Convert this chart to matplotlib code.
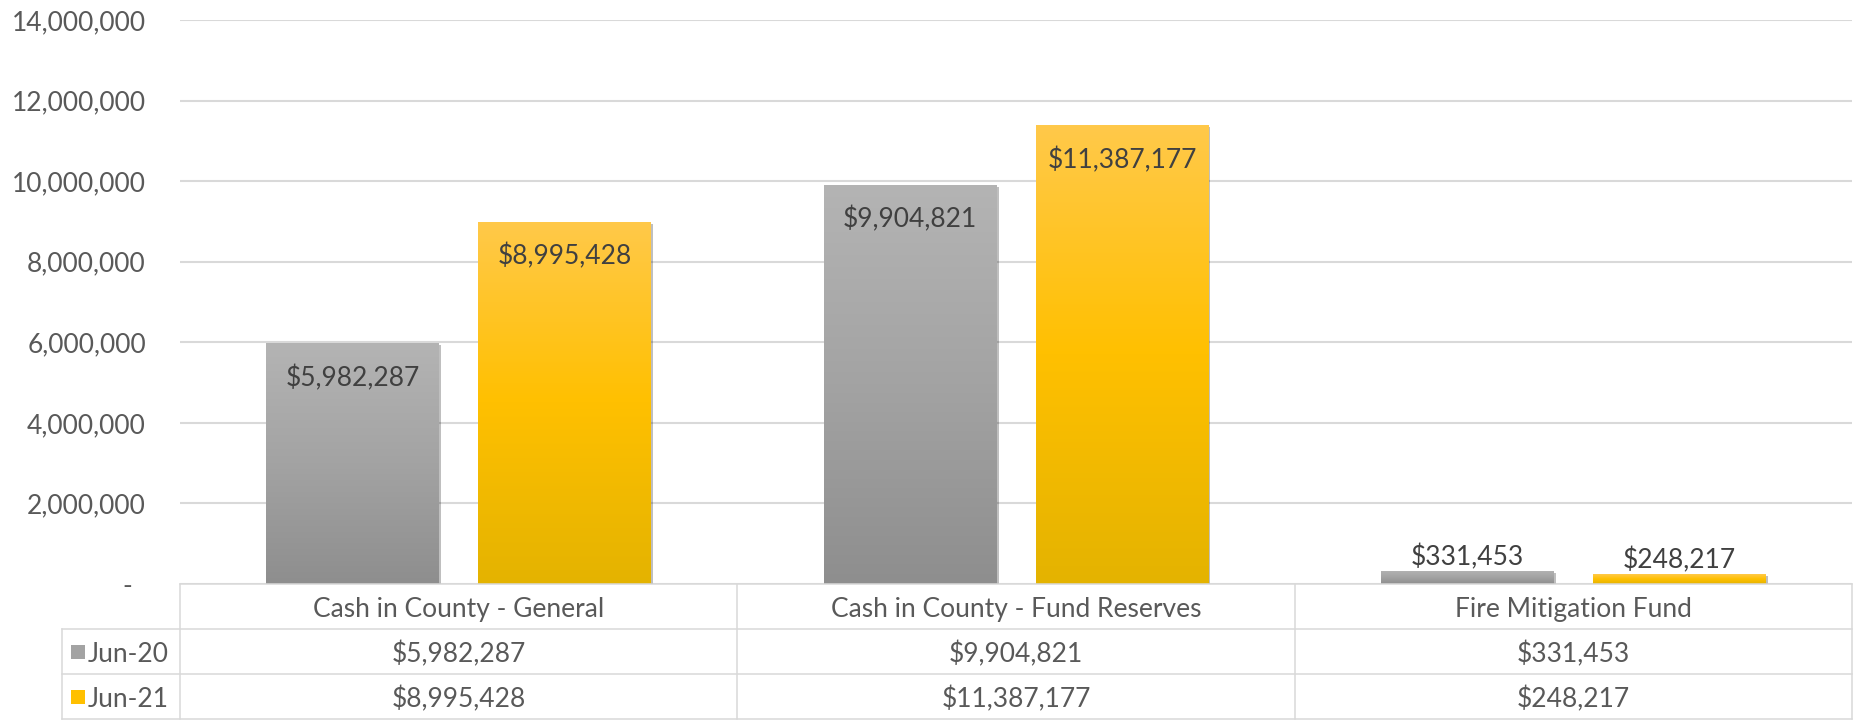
import numpy as np
import matplotlib.pyplot as plt
import matplotlib.transforms as mtransforms
import matplotlib.patheffects as pe
from matplotlib.patches import Rectangle
from matplotlib.colors import LinearSegmentedColormap

plt.rcParams['font.family'] = ['Lato', 'DejaVu Sans']

# data
categories = ['Cash in County - General', 'Cash in County - Fund Reserves', 'Fire Mitigation Fund']
series_names = ['Jun-20', 'Jun-21']
jun20 = [5982287, 9904821, 331453]
jun21 = [8995428, 11387177, 248217]
yticks = [0, 2000000, 4000000, 6000000, 8000000, 10000000, 12000000, 14000000]

gray_stops = ['#8e8e8e', '#a3a3a3', '#b4b4b4']   # bottom -> top
gold_stops = ['#e4b300', '#ffc000', '#ffc94a']
text_col = '#595959'
line_col = '#d9d9d9'
fs = 19

W, H = 1855, 726
fig = plt.figure(figsize=(W / 100, H / 100), dpi=100)
ax = fig.add_axes([180 / W, 1 - 584 / H, (1852 - 180) / W, (584 - 20) / H])

x = np.arange(len(categories))
bw = 0.31
off = 0.19
shadow = [pe.SimplePatchShadow(offset=(1.5, -1.5), alpha=0.25, shadow_rgbFace='k'), pe.Normal()]


def shade(bars, stops):
    cmap = LinearSegmentedColormap.from_list('g', stops)
    grad = np.linspace(0, 1, 256).reshape(-1, 1)
    for b in bars:
        x0, y0 = b.get_x(), b.get_y()
        im = ax.imshow(grad, cmap=cmap, aspect='auto', origin='lower', zorder=2.5,
                       extent=(x0, x0 + b.get_width(), y0, y0 + b.get_height()))
        im.set_clip_path(b)


def label(bars, vals):
    for b, v in zip(bars, vals):
        cx = b.get_x() + b.get_width() / 2
        dy = -25 if v > 1e6 else 10
        ax.annotate(f'${v:,.0f}', (cx, v), xytext=(0, dy), textcoords='offset points',
                    ha='center', va='center', fontsize=fs, color='#404040', zorder=4)


b1 = ax.bar(x - off, jun20, bw, color=gray_stops[1], zorder=2, path_effects=shadow)
b2 = ax.bar(x + off, jun21, bw, color=gold_stops[1], zorder=2, path_effects=shadow)
shade(b1, gray_stops)
shade(b2, gold_stops)
label(b1, jun20)
label(b2, jun21)

ax.set_xlim(-0.5, 2.5)
ax.set_ylim(0, 14000000)
ax.set_yticks(yticks)
ax.set_yticklabels(['-  ' if v == 0 else f'{v:,.0f}' for v in yticks])
ax.set_xticks([])
ax.tick_params(axis='y', length=0, pad=24.5, labelsize=fs, labelcolor=text_col)
ax.grid(axis='y', color=line_col, linewidth=1.5)
ax.set_axisbelow(True)
for s in ax.spines.values():
    s.set_visible(False)

# data table under the chart
tax = fig.add_axes([62 / W, 1 - 719 / H, (1852 - 62) / W, (719 - 584) / H])
tax.axis('off')
trans = mtransforms.blended_transform_factory(ax.transData, tax.transAxes)
lw = 1.1
nudge = 3 / 135  # text sits a bit low in its cell

tax.plot([-0.5, 2.5], [1, 1], transform=trans, color=line_col, lw=lw, clip_on=False)
for yy in [2 / 3, 1 / 3, 0]:
    tax.plot([0, 1], [yy, yy], transform=tax.transAxes, color=line_col, lw=lw, clip_on=False)
for xx in [-0.5, 0.5, 1.5, 2.5]:
    tax.plot([xx, xx], [0, 1], transform=trans, color=line_col, lw=lw, clip_on=False)
tax.plot([0, 0], [0, 2 / 3], transform=tax.transAxes, color=line_col, lw=lw, clip_on=False)

for i, c in enumerate(categories):
    tax.text(i, 5 / 6 - nudge, c, transform=trans, ha='center', va='center', fontsize=fs, color=text_col)

rows = [(series_names[0], jun20, gray_stops[1], 0.5), (series_names[1], jun21, gold_stops[1], 1 / 6)]
for name, vals, col, yc in rows:
    tax.add_patch(Rectangle((9 / 1790, yc - 7 / 135), 14 / 1790, 14 / 135, transform=tax.transAxes,
                            facecolor=col, edgecolor='none', clip_on=False))
    tax.text(26 / 1790, yc - nudge, name, transform=tax.transAxes, ha='left', va='center', fontsize=fs, color=text_col)
    for i, v in enumerate(vals):
        tax.text(i, yc - nudge, f'${v:,.0f}', transform=trans, ha='center', va='center', fontsize=fs, color=text_col)

fig.savefig('out.png', dpi=100)
